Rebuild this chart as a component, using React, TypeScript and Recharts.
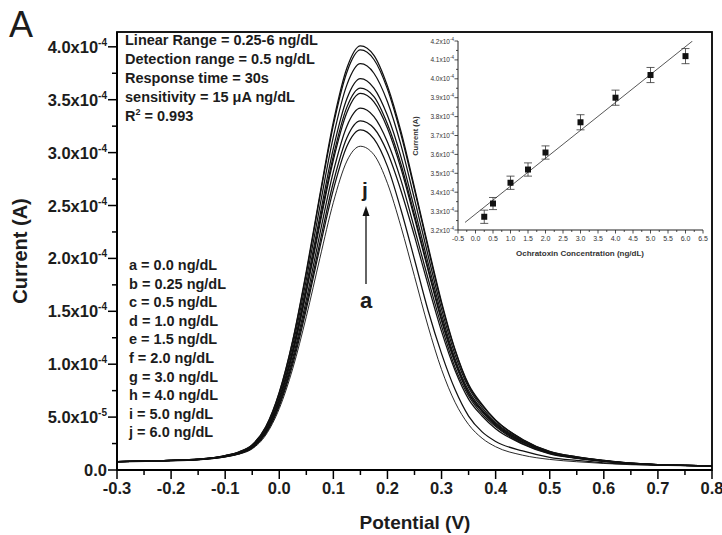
import React from "react";
import {
  LineChart,
  Line,
  XAxis,
  YAxis,
  ComposedChart,
  Scatter,
  ErrorBar,
} from "recharts";

// potential (V) sample positions
const potential = [
  -0.3, -0.25, -0.2, -0.15, -0.1, -0.075, -0.05, -0.025, 0, 0.025, 0.05, 0.075, 0.1, 0.125, 0.15,
  0.175, 0.2, 0.225, 0.25, 0.275, 0.3, 0.325, 0.35, 0.375, 0.4, 0.45, 0.5, 0.55, 0.6, 0.65, 0.7, 0.75, 0.8,
];

// current in units of 1e-4 A
const curveA = [0.075, 0.08, 0.085, 0.095, 0.123, 0.149, 0.2, 0.33, 0.58, 0.96, 1.45, 2.0, 2.53, 2.92, 3.06,
  2.98, 2.71, 2.3, 1.83, 1.36, 0.95, 0.64, 0.43, 0.3, 0.22, 0.14, 0.1, 0.078, 0.062, 0.05, 0.044, 0.04, 0.038];
const curveB = [0.078, 0.084, 0.089, 0.098, 0.125, 0.152, 0.207, 0.343, 0.605, 1.0, 1.52, 2.1, 2.65, 3.06, 3.215,
  3.13, 2.87, 2.46, 1.99, 1.51, 1.1, 0.76, 0.51, 0.36, 0.27, 0.18, 0.12, 0.09, 0.068, 0.055, 0.047, 0.042, 0.04];
const curveC = [0.08, 0.085, 0.089, 0.099, 0.127, 0.154, 0.21, 0.35, 0.62, 1.03, 1.56, 2.15, 2.72, 3.14, 3.3,
  3.23, 3.0, 2.64, 2.21, 1.75, 1.31, 0.94, 0.67, 0.51, 0.39, 0.245, 0.152, 0.11, 0.082, 0.06, 0.049, 0.043, 0.04];
const curveD = [0.08, 0.085, 0.09, 0.099, 0.128, 0.157, 0.215, 0.36, 0.64, 1.06, 1.61, 2.23, 2.82, 3.25, 3.42,
  3.34, 3.1, 2.74, 2.28, 1.81, 1.36, 0.97, 0.7, 0.53, 0.41, 0.25, 0.156, 0.112, 0.083, 0.061, 0.05, 0.043, 0.04];
const curveE = [0.08, 0.085, 0.09, 0.1, 0.13, 0.16, 0.22, 0.37, 0.66, 1.1, 1.68, 2.32, 2.93, 3.38, 3.56,
  3.48, 3.23, 2.85, 2.38, 1.89, 1.41, 1.01, 0.72, 0.55, 0.42, 0.26, 0.16, 0.115, 0.085, 0.062, 0.05, 0.043, 0.04];
const curveF = [0.08, 0.085, 0.09, 0.1, 0.131, 0.161, 0.222, 0.375, 0.67, 1.12, 1.7, 2.35, 2.97, 3.43, 3.61,
  3.53, 3.27, 2.89, 2.41, 1.91, 1.43, 1.03, 0.73, 0.56, 0.43, 0.264, 0.162, 0.116, 0.086, 0.062, 0.05, 0.043, 0.04];
const curveG = [0.08, 0.085, 0.09, 0.101, 0.132, 0.163, 0.226, 0.382, 0.684, 1.14, 1.74, 2.4, 3.04, 3.51, 3.7,
  3.61, 3.35, 2.96, 2.47, 1.96, 1.47, 1.05, 0.75, 0.57, 0.44, 0.269, 0.165, 0.118, 0.087, 0.063, 0.05, 0.043, 0.04];
const curveH = [0.08, 0.085, 0.091, 0.102, 0.134, 0.167, 0.231, 0.394, 0.708, 1.18, 1.8, 2.49, 3.15, 3.64, 3.84,
  3.75, 3.48, 3.07, 2.56, 2.03, 1.52, 1.09, 0.78, 0.59, 0.45, 0.278, 0.17, 0.121, 0.089, 0.064, 0.051, 0.043, 0.04];
const curveI = [0.08, 0.086, 0.091, 0.102, 0.136, 0.17, 0.237, 0.405, 0.729, 1.22, 1.86, 2.58, 3.26, 3.76, 3.97,
  3.88, 3.6, 3.17, 2.65, 2.1, 1.57, 1.13, 0.8, 0.61, 0.47, 0.286, 0.174, 0.124, 0.09, 0.065, 0.051, 0.043, 0.04];
const curveJ = [0.08, 0.086, 0.091, 0.103, 0.137, 0.17, 0.238, 0.408, 0.735, 1.23, 1.88, 2.6, 3.29, 3.8, 4.01,
  3.92, 3.63, 3.2, 2.67, 2.12, 1.59, 1.14, 0.81, 0.62, 0.47, 0.289, 0.176, 0.125, 0.091, 0.065, 0.051, 0.043, 0.04];

const xMajor = [-0.3, -0.2, -0.1, 0, 0.1, 0.2, 0.3, 0.4, 0.5, 0.6, 0.7, 0.8];
const xMinor = [-0.25, -0.15, -0.05, 0.05, 0.15, 0.25, 0.35, 0.45, 0.55, 0.65, 0.75];
const yMajor = [0, 0.5, 1, 1.5, 2, 2.5, 3, 3.5, 4];
const yMinor = [0.25, 0.75, 1.25, 1.75, 2.25, 2.75, 3.25, 3.75];
const yTickBase = ["0.0", "5.0x10", "1.0x10", "1.5x10", "2.0x10", "2.5x10", "3.0x10", "3.5x10", "4.0x10"];
const yTickExp = ["", "-5", "-4", "-4", "-4", "-4", "-4", "-4", "-4"];

const infoLines = [
  "Linear Range = 0.25-6 ng/dL",
  "Detection range = 0.5 ng/dL",
  "Response time = 30s",
  "sensitivity = 15 \u03BCA ng/dL",
];
const legendLines = [
  "a = 0.0 ng/dL", "b = 0.25 ng/dL", "c = 0.5 ng/dL", "d = 1.0 ng/dL", "e = 1.5 ng/dL",
  "f = 2.0 ng/dL", "g = 3.0 ng/dL", "h = 4.0 ng/dL", "i = 5.0 ng/dL", "j = 6.0 ng/dL",
];

// inset: calibration
const concentration = [0.25, 0.5, 1, 1.5, 2, 3, 4, 5, 6];
const peakCurrent = [3.27, 3.34, 3.45, 3.52, 3.61, 3.77, 3.9, 4.02, 4.12];
const peakError = [0.035, 0.032, 0.035, 0.035, 0.035, 0.04, 0.04, 0.04, 0.04];
const fitX = [-0.3, 6.2];
const fitY = [3.24, 4.2];
const insetXMajor = [-0.5, 0, 0.5, 1, 1.5, 2, 2.5, 3, 3.5, 4, 4.5, 5, 5.5, 6, 6.5];
const insetXMinor = [-0.25, 0.25, 0.75, 1.25, 1.75, 2.25, 2.75, 3.25, 3.75, 4.25, 4.75, 5.25, 5.75, 6.25];
const insetYMajor = [3.2, 3.3, 3.4, 3.5, 3.6, 3.7, 3.8, 3.9, 4.0, 4.1, 4.2];
const insetYMinor = [3.25, 3.35, 3.45, 3.55, 3.65, 3.75, 3.85, 3.95, 4.05, 4.15];

const seriesKeys = ["a", "b", "c", "d", "e", "f", "g", "h", "i", "j"];
const curves = [curveA, curveB, curveC, curveD, curveE, curveF, curveG, curveH, curveI, curveJ];

const mainData = potential.map((v, i) => {
  const row: Record<string, number> = { v };
  seriesKeys.forEach((k, s) => (row[k] = curves[s][i]));
  return row;
});
const pointData = concentration.map((x, i) => ({ x, y: peakCurrent[i], err: peakError[i] }));
const fitData = fitX.map((x, i) => ({ x, y: fitY[i] }));

const FONT = "'Liberation Sans', Arial, Helvetica, sans-serif";
const INK = "#1c1c1c";

const isIn = (arr: number[], v: number) => arr.some((m) => Math.abs(m - v) < 1e-6);

function MainXTick({ x, y, payload }: any) {
  const major = isIn(xMajor, payload.value);
  return (
    <g>
      <line x1={x} x2={x} y1={y} y2={y + (major ? 9 : 5)} stroke="#000" strokeWidth={1.5} />
      {major && (
        <text x={x} y={y + 24} textAnchor="middle" fontSize={16.5} fontWeight="bold" fill={INK} fontFamily={FONT}>
          {payload.value.toFixed(1)}
        </text>
      )}
    </g>
  );
}

function MainYTick({ x, y, payload }: any) {
  const idx = yMajor.findIndex((m) => Math.abs(m - payload.value) < 1e-6);
  const major = idx >= 0;
  return (
    <g>
      <line x1={x - (major ? 9 : 5)} x2={x} y1={y} y2={y} stroke="#000" strokeWidth={1.5} />
      {major && (
        <text x={x - 10} y={y + 6} textAnchor="end" fontSize={16.5} fontWeight="bold" fill={INK} fontFamily={FONT}>
          <tspan>{yTickBase[idx]}</tspan>
          {yTickExp[idx] && (
            <tspan dy={-7} fontSize={10}>{yTickExp[idx]}</tspan>
          )}
        </text>
      )}
    </g>
  );
}

function InsetXTick({ x, y, payload }: any) {
  const major = isIn(insetXMajor, payload.value);
  return (
    <g>
      <line x1={x} x2={x} y1={y} y2={y + (major ? 3.5 : 2)} stroke="#222" strokeWidth={0.8} />
      {major && (
        <text x={x} y={y + 10.5} textAnchor="middle" fontSize={7} fill="#333" fontFamily={FONT}>
          {payload.value.toFixed(1)}
        </text>
      )}
    </g>
  );
}

function InsetYTick({ x, y, payload }: any) {
  const major = isIn(insetYMajor, payload.value);
  return (
    <g>
      <line x1={x - (major ? 3.5 : 2)} x2={x} y1={y} y2={y} stroke="#222" strokeWidth={0.8} />
      {major && (
        <text x={x - 4} y={y + 2.5} textAnchor="end" fontSize={6.5} fill="#333" fontFamily={FONT}>
          <tspan>{payload.value.toFixed(1)}x10</tspan>
          <tspan dy={-3} fontSize={4.5}>-4</tspan>
        </text>
      )}
    </g>
  );
}

function SquareDot({ cx, cy }: any) {
  return <rect x={cx - 3} y={cy - 3} width={6} height={6} fill="#111" />;
}

export default function App() {
  return (
    <div style={{ position: "relative", width: 722, height: 535, background: "#fff" }}>
      <style>{`body{margin:0}`}</style>
      <LineChart width={722} height={535} data={mainData} margin={{ top: 32, right: 10, bottom: 0, left: 0 }}>
        <XAxis
          dataKey="v"
          type="number"
          domain={[-0.3, 0.8]}
          ticks={[...xMajor, ...xMinor].sort((p, q) => p - q)}
          interval={0}
          tick={<MainXTick />}
          tickLine={false}
          tickSize={0}
          tickMargin={0}
          height={65}
          axisLine={{ stroke: "#000", strokeWidth: 1.8 }}
          allowDataOverflow
        />
        <YAxis
          type="number"
          domain={[0, 4.14]}
          ticks={[...yMajor, ...yMinor].sort((p, q) => p - q)}
          interval={0}
          tick={<MainYTick />}
          tickLine={false}
          tickSize={0}
          tickMargin={0}
          width={117}
          axisLine={{ stroke: "#000", strokeWidth: 1.8 }}
          allowDataOverflow
        />
        {seriesKeys.map((k) => (
          <Line
            key={k}
            dataKey={k}
            type="monotone"
            stroke="#111"
            strokeWidth={k === "a" ? 0.9 : 1.25}
            dot={false}
            isAnimationActive={false}
          />
        ))}
      </LineChart>

      <div style={{ position: "absolute", left: 400, top: 32 }}>
        <ComposedChart width={313} height={236} margin={{ top: 9, right: 10, bottom: 0, left: 0 }}>
          <XAxis
            dataKey="x"
            type="number"
            domain={[-0.5, 6.5]}
            ticks={[...insetXMajor, ...insetXMinor].sort((p, q) => p - q)}
            interval={0}
            tick={<InsetXTick />}
            tickLine={false}
            tickSize={0}
            tickMargin={0}
            height={38}
            axisLine={{ stroke: "#222", strokeWidth: 1 }}
            allowDataOverflow
          />
          <YAxis
            type="number"
            domain={[3.2, 4.2]}
            ticks={[...insetYMajor, ...insetYMinor].sort((p, q) => p - q)}
            interval={0}
            tick={<InsetYTick />}
            tickLine={false}
            tickSize={0}
            tickMargin={0}
            width={58}
            axisLine={{ stroke: "#222", strokeWidth: 1 }}
            allowDataOverflow
          />
          <Line data={fitData} dataKey="y" type="linear" stroke="#444" strokeWidth={0.9} dot={false} isAnimationActive={false} />
          <Scatter data={pointData} dataKey="y" shape={<SquareDot />} isAnimationActive={false}>
            <ErrorBar dataKey="err" direction="y" width={4} stroke="#333" strokeWidth={0.8} isAnimationActive={false} />
          </Scatter>
        </ComposedChart>
      </div>

      <svg
        width={722}
        height={535}
        style={{ position: "absolute", left: 0, top: 0, pointerEvents: "none" }}
        fontFamily={FONT}
      >
        <rect x={117} y={32} width={595} height={438} fill="none" stroke="#000" strokeWidth={1.8} />
        <text x={9} y={37} fontSize={36} fill={INK}>A</text>

        {infoLines.map((t, i) => (
          <text key={t} x={125} y={45.2 + 19 * i} fontSize={14.5} fontWeight="bold" fill={INK}>{t}</text>
        ))}
        <text x={125} y={45.2 + 19 * 4} fontSize={14.5} fontWeight="bold" fill={INK}>
          R<tspan dy={-6} fontSize={9}>2</tspan><tspan dy={6}> = 0.993</tspan>
        </text>

        {legendLines.map((t, i) => (
          <text key={t} x={129} y={270.2 + 18.55 * i} fontSize={14.5} fontWeight="bold" fill={INK}>{t}</text>
        ))}

        <text x={365} y={197} textAnchor="middle" fontSize={21} fontWeight="bold" fill={INK}>j</text>
        <line x1={366} x2={366} y1={284} y2={214} stroke="#111" strokeWidth={1.3} />
        <path d="M366 206 L362.5 216 L369.5 216 Z" fill="#111" />
        <text x={366} y={308} textAnchor="middle" fontSize={22} fontWeight="bold" fill={INK}>a</text>

        <text transform="translate(27 251) rotate(-90)" textAnchor="middle" fontSize={20} fontWeight="bold" fill={INK}>
          Current (A)
        </text>
        <text x={415} y={529} textAnchor="middle" fontSize={19} fontWeight="bold" fill={INK}>Potential (V)</text>

        <text transform="translate(418 136) rotate(-90)" textAnchor="middle" fontSize={7.5} fontWeight="bold" fill="#333">
          Current (A)
        </text>
        <text x={580} y={256} textAnchor="middle" fontSize={8} fontWeight="bold" fill="#333">
          Ochratoxin Concentration (ng/dL)
        </text>
      </svg>
    </div>
  );
}
